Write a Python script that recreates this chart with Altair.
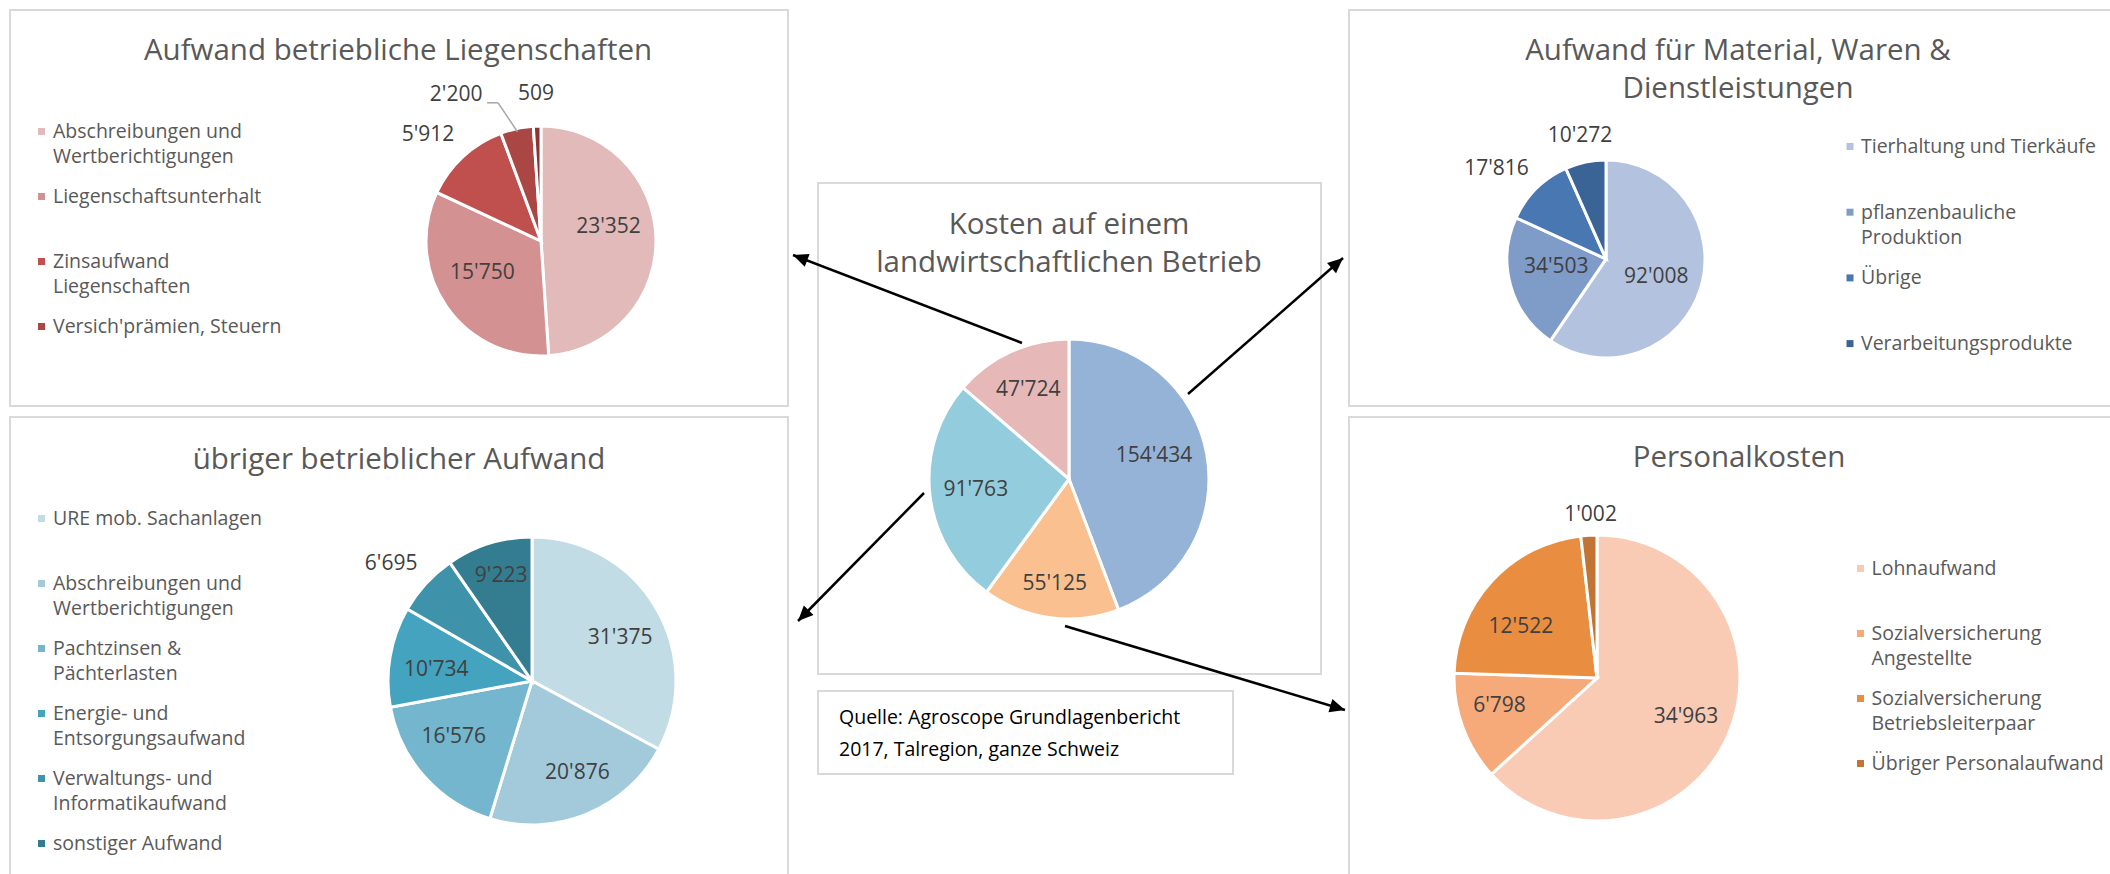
import altair as alt
import pandas as pd
import math

# ---------------- data ----------------
main_cats = ["Aufwand für Material, Waren & Dienstleistungen", "Personalkosten",
             "übriger betrieblicher Aufwand", "Aufwand betriebliche Liegenschaften"]
main_vals = [154434, 55125, 91763, 47724]

tl_cats = ["Abschreibungen und\nWertberichtigungen", "Liegenschaftsunterhalt",
           "Zinsaufwand\nLiegenschaften", "Versich'prämien, Steuern", "weitere"]
tl_vals = [23352, 15750, 5912, 2200, 509]

tr_cats = ["Tierhaltung und Tierkäufe", "pflanzenbauliche\nProduktion", "Übrige",
           "Verarbeitungsprodukte"]
tr_vals = [92008, 34503, 17816, 10272]

bl_cats = ["URE mob. Sachanlagen", "Abschreibungen und\nWertberichtigungen",
           "Pachtzinsen &\nPächterlasten", "Energie- und\nEntsorgungsaufwand",
           "Verwaltungs- und\nInformatikaufwand", "sonstiger Aufwand"]
bl_vals = [31375, 20876, 16576, 10734, 6695, 9223]

br_cats = ["Lohnaufwand", "Sozialversicherung\nAngestellte",
           "Sozialversicherung\nBetriebsleiterpaar", "Übriger Personalaufwand"]
br_vals = [34963, 6798, 12522, 1002]

titles = {
    "tl": "Aufwand betriebliche Liegenschaften",
    "tr": "Aufwand für Material, Waren &\nDienstleistungen",
    "main": "Kosten auf einem\nlandwirtschaftlichen Betrieb",
    "bl": "übriger betrieblicher Aufwand",
    "br": "Personalkosten",
}
source_text = "Quelle: Agroscope Grundlagenbericht\n2017, Talregion, ganze Schweiz"

# ---------------- styles ----------------
main_colors = ["#95B3D7", "#FAC090", "#93CDDD", "#E6B9B8"]
tl_colors = ["#E2BABA", "#D39191", "#C0504D", "#AA4644", "#8C3230"]
tr_colors = ["#B3C3DF", "#7F9BC8", "#4877B1", "#3A6496"]
bl_colors = ["#C1DCE5", "#A3CADA", "#73B6CD", "#44A3BE", "#3E92AA", "#347D90"]
br_colors = ["#F9CBB4", "#F7AA79", "#E98E40", "#C27434"]

FONT = "Open Sans, Noto Sans, DejaVu Sans"
W, H = 2110, 874

# ---------------- layout ----------------
PIES = {
    "main": dict(cx=1069, cy=479, r=140),
    "tl": dict(cx=541, cy=241, r=115),
    "tr": dict(cx=1606, cy=259, r=99),
    "bl": dict(cx=532, cy=681, r=144),
    "br": dict(cx=1597, cy=678, r=143),
}
# label distance (fraction of radius) and small angular nudge (deg), Excel "best fit"
LABEL_R = {
    "main": [0.63, 0.76, 0.67, 0.70],
    "tl": [0.60, 0.58, 1.35, 1.47, 1.28],
    "tr": [0.54, 0.51, 1.43, 1.27],
    "bl": [0.68, 0.71, 0.67, 0.67, 1.27, 0.76],
    "br": [0.68, 0.71, 0.64, 1.14],
}
LABEL_NUDGE = {
    "main": [-5, 0, 0, 0],
    "tl": [-10, 6, -4, -18, 0],
    "tr": [3, 6, -6, 0],
    "bl": [5, -4, 6, -3, -3, 1],
    "br": [0, 4, -9, 1],
}
LEADER = {"tl": 3}

BOXES = pd.DataFrame({
    "x1": [10, 10, 818, 818, 1349, 1349],
    "y1": [10, 417, 183, 691, 10, 417],
    "x2": [788, 788, 1321, 1233, 2125, 2125],
    "y2": [406, 890, 674, 774, 406, 890],
})
TITLE_POS = {"tl": (398, 60), "tr": (1738, 60), "main": (1069, 234),
             "bl": (399, 469), "br": (1739, 467)}
LEGEND_POS = {  # marker x, text x, first baseline, pitch, entries shown
    "tl": (41.5, 53, 138, 65, 4),
    "tr": (1850, 1861, 153, 65.7, 4),
    "bl": (41.5, 53, 525, 65, 6),
    "br": (1860.5, 1871.5, 575, 65, 4),
}
ARROWS = pd.DataFrame({
    "x": [1022, 1188, 924, 1065],
    "y": [343, 394, 493, 626],
    "x2": [793, 1343, 798, 1345],
    "y2": [255, 258, 621, 710],
})


def fmt(v):
    return f"{v:,}".replace(",", "'")


layers = []

# panel boxes
layers.append(
    alt.Chart(BOXES).mark_rect(fill="white", stroke="#D9D9D9", strokeWidth=2).encode(
        x=alt.X("x1:Q", scale=None), x2="x2:Q",
        y=alt.Y("y1:Q", scale=None), y2="y2:Q")
)

# titles
tdf = pd.DataFrame({"key": list(TITLE_POS.keys()),
                    "x": [TITLE_POS[k][0] for k in TITLE_POS],
                    "y": [TITLE_POS[k][1] for k in TITLE_POS],
                    "t": [titles[k] for k in TITLE_POS]})
layers.append(
    alt.Chart(tdf).mark_text(font=FONT, fontSize=29.5, fontWeight=400, color="#595959",
                             align="center", baseline="alphabetic", lineBreak="\n",
                             lineHeight=38).encode(
        x=alt.X("x:Q", scale=None), y=alt.Y("y:Q", scale=None), text="t:N")
)

# source
sdf = pd.DataFrame({"x": [839], "y": [723.5], "t": [source_text]})
layers.append(
    alt.Chart(sdf).mark_text(font=FONT, fontSize=19.5, color="#000000", align="left",
                             baseline="alphabetic", lineBreak="\n", lineHeight=32.5).encode(
        x=alt.X("x:Q", scale=None), y=alt.Y("y:Q", scale=None), text="t:N")
)

pies = {
    "main": (main_cats, main_vals, main_colors),
    "tl": (tl_cats, tl_vals, tl_colors),
    "tr": (tr_cats, tr_vals, tr_colors),
    "bl": (bl_cats, bl_vals, bl_colors),
    "br": (br_cats, br_vals, br_colors),
}

for key, (cats, vals, cols) in pies.items():
    p = PIES[key]
    df = pd.DataFrame({"cat": cats, "v": vals, "idx": list(range(len(vals))), "col": cols,
                       "lab": [fmt(v) for v in vals], "rf": LABEL_R[key],
                       "nudge": LABEL_NUDGE[key]})
    layers.append(
        alt.Chart(df).mark_arc(radius=p["r"], stroke="white", strokeWidth=3).encode(
            theta=alt.Theta("v:Q", stack=True),
            color=alt.Color("col:N", scale=None),
            order=alt.Order("idx:Q"),
            x=alt.value(p["cx"]), y=alt.value(p["cy"]))
    )
    lab = alt.Chart(df).transform_window(
        cum="sum(v)", sort=[{"field": "idx"}], frame=[None, 0]
    ).transform_joinaggregate(total="sum(v)").transform_calculate(
        mid="2*PI*(datum.cum - datum.v/2)/datum.total",
    ).transform_calculate(
        ang="datum.mid + datum.nudge*PI/180",
        rad=f"datum.rf*{p['r']}",
    )
    layers.append(
        lab.mark_text(font=FONT, fontSize=21, color="#404040", align="center",
                      baseline="middle").encode(
            theta=alt.Theta("ang:Q", scale=None),
            radius=alt.Radius("rad:Q", scale=None),
            text="lab:N",
            x=alt.value(p["cx"]), y=alt.value(p["cy"]))
    )
    if key in LEADER:
        li = LEADER[key]
        lead = lab.transform_filter(f"datum.idx == {li}").transform_calculate(
            lx=f"{p['cx']} + datum.rad*sin(datum.ang) + 31",
            ly=f"{p['cy']} - datum.rad*cos(datum.ang) + 8",
            ex=f"{p['cx']} + {p['r']}*0.97*sin(datum.mid)",
            ey=f"{p['cy']} - {p['r']}*0.97*cos(datum.mid)",
        ).transform_calculate(kx="datum.lx + 11")
        layers.append(lead.mark_rule(color="#A6A6A6", strokeWidth=1.5).encode(
            x=alt.X("lx:Q", scale=None), x2="kx:Q",
            y=alt.Y("ly:Q", scale=None), y2="ly:Q"))
        layers.append(lead.mark_rule(color="#A6A6A6", strokeWidth=1.5).encode(
            x=alt.X("kx:Q", scale=None), x2="ex:Q",
            y=alt.Y("ly:Q", scale=None), y2="ey:Q"))

    # legend
    if key in LEGEND_POS:
        mx, tx, y0, pitch, n = LEGEND_POS[key]
        ldf = pd.DataFrame({"t": cats[:n], "col": cols[:n]})
        ldf["yb"] = [y0 + i * pitch for i in range(n)]
        ldf["ym"] = ldf["yb"] - 6.5
        ldf["mx"] = mx
        ldf["tx"] = tx
        layers.append(
            alt.Chart(ldf).mark_square(size=49, opacity=1, filled=True).encode(
                x=alt.X("mx:Q", scale=None), y=alt.Y("ym:Q", scale=None),
                color=alt.Color("col:N", scale=None))
        )
        layers.append(
            alt.Chart(ldf).mark_text(font=FONT, fontSize=19.5, fontWeight=400,
                                     color="#595959", align="left", baseline="alphabetic",
                                     lineBreak="\n", lineHeight=25).encode(
                x=alt.X("tx:Q", scale=None), y=alt.Y("yb:Q", scale=None), text="t:N")
        )

# arrows
ARROWS["ang"] = [math.degrees(math.atan2(x2 - x, -(y2 - y)))
                 for x, y, x2, y2 in zip(ARROWS.x, ARROWS.y, ARROWS.x2, ARROWS.y2)]
layers.append(
    alt.Chart(ARROWS).mark_rule(color="black", strokeWidth=2.5).encode(
        x=alt.X("x:Q", scale=None), y=alt.Y("y:Q", scale=None), x2="x2:Q", y2="y2:Q")
)
layers.append(
    alt.Chart(ARROWS).mark_point(shape="M0,0L-0.85,1.9L0.85,1.9Z", size=256, filled=True,
                                 color="black", opacity=1).encode(
        x=alt.X("x2:Q", scale=None), y=alt.Y("y2:Q", scale=None),
        angle=alt.Angle("ang:Q", scale=None))
)

chart = alt.layer(*layers).resolve_scale(theta="independent").properties(
    width=W, height=H, padding=0, autosize=alt.AutoSizeParams(type="none"),
    background="white"
).configure_view(strokeWidth=0)

chart.save("out.html", embed_options={"renderer": "svg", "actions": False})
